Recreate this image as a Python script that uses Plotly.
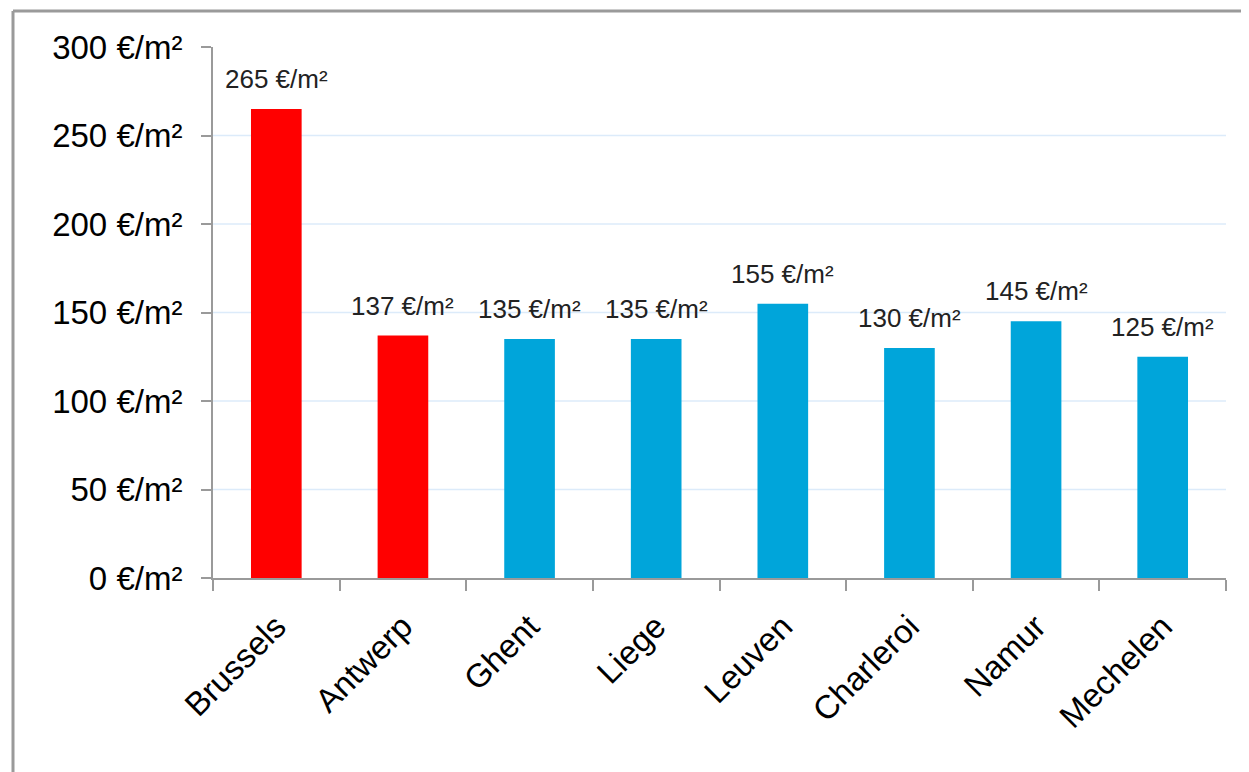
import plotly.graph_objects as go

cities = ["Brussels", "Antwerp", "Ghent", "Liege", "Leuven", "Charleroi", "Namur", "Mechelen"]
prices = [265, 137, 135, 135, 155, 130, 145, 125]
bar_colors = ["#FF0000", "#FF0000", "#00A5DA", "#00A5DA", "#00A5DA", "#00A5DA", "#00A5DA", "#00A5DA"]
tick_vals = [0, 50, 100, 150, 200, 250, 300]
tick_text = [f"{v} €/m²" for v in tick_vals]
grid_vals = [50, 100, 150, 200, 250]
label_text = [f"{v} €/m²" for v in prices]

FONT = "Liberation Sans, Arial, sans-serif"

fig = go.Figure()
fig.add_trace(go.Bar(x=cities, y=prices, marker=dict(color=bar_colors, line=dict(width=0)),
                     hoverinfo="x+y"))

shapes = []
for g in grid_vals:
    shapes.append(dict(type="line", xref="paper", yref="y", x0=0, x1=1, y0=g, y1=g,
                       line=dict(color="#DCEBFA", width=1.5), layer="below"))
# outer frame (left and top edges; the rest lies outside the picture)
fx0 = (13 - 213) / 1013
fy1 = (578 - 11) / 531
shapes.append(dict(type="line", xref="paper", yref="paper", x0=fx0, x1=fx0, y0=-0.6, y1=fy1,
                   line=dict(color="#9A9A9A", width=3), layer="above"))
shapes.append(dict(type="line", xref="paper", yref="paper", x0=fx0, x1=1.1, y0=fy1, y1=fy1,
                   line=dict(color="#9A9A9A", width=3), layer="above"))

annotations = []
for c, v, t in zip(cities, prices, label_text):
    annotations.append(dict(x=c, y=v, xref="x", yref="y", text=t, showarrow=False,
                            yanchor="bottom", yshift=13,
                            font=dict(family=FONT, size=26, color="#222222")))

fig.update_layout(
    width=1241, height=764,
    margin=dict(l=205, r=23, t=39, b=194),
    paper_bgcolor="white", plot_bgcolor="white",
    bargap=0.6,
    showlegend=False,
    shapes=shapes,
    annotations=annotations,
    font=dict(family=FONT, color="black"),
    xaxis=dict(
        tickangle=-45, tickfont=dict(size=33, family=FONT, color="black"),
        showline=True, linecolor="#9A9A9A", linewidth=2,
        ticks="outside", ticklen=11, tickcolor="#9A9A9A", tickwidth=2,
        tickson="boundaries", showgrid=False, ticklabelstandoff=14,
    ),
    yaxis=dict(
        range=[0, 300], tickvals=tick_vals, ticktext=tick_text,
        tickfont=dict(size=33, family=FONT, color="black"),
        showline=True, linecolor="#9A9A9A", linewidth=2,
        ticks="outside", ticklen=10, tickcolor="#9A9A9A", tickwidth=2,
        showgrid=False, zeroline=False, ticklabelstandoff=12,
    ),
)

fig.write_html("out.html")
